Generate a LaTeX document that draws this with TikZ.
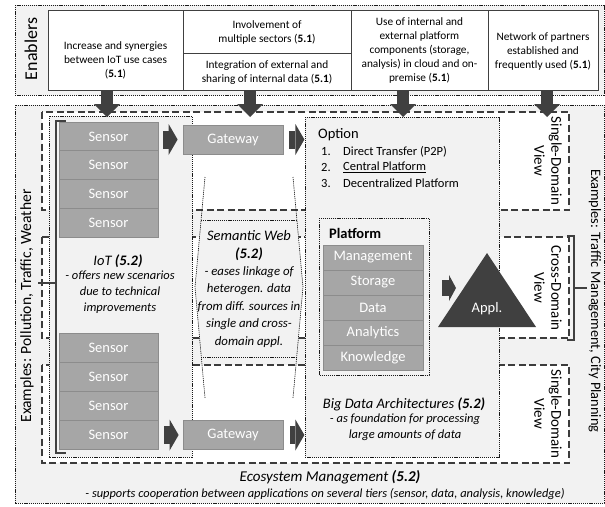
\documentclass[tikz,border=0pt]{standalone}
\usepackage{fontspec}
\setmainfont{Carlito}
\usetikzlibrary{arrows.meta,calc}
\definecolor{bggray}{HTML}{F2F2F2}
\definecolor{darkgr}{HTML}{404040}
\definecolor{midgr}{HTML}{A6A6A6}
\definecolor{edgegr}{HTML}{8C8C8C}
\definecolor{linegr}{HTML}{3C3C3C}
\newcommand\fsz[2]{\fontsize{#1}{#2}\selectfont}
\tikzset{
  dotline/.style={draw=black!90, line width=0.65pt, dash pattern=on 1.2pt off 0.9pt},
  outerbox/.style={dotline, fill=bggray},
  viewbox/.style={draw=linegr, line width=1.1pt, dash pattern=on 7pt off 3.5pt, fill=white},
  cell/.style={draw=darkgr, line width=0.9pt, fill=white, inner sep=0pt},
  celltext/.style={align=center, inner sep=0pt, font={\fsz{11.3}{14}}},
  tile/.style={draw=edgegr, line width=0.8pt, fill=midgr, text=white, inner sep=0pt, font={\fsz{14.5}{16}}},
  sensorbox/.style={tile, minimum width=99pt, minimum height=28.75pt},
  gatebox/.style={tile, minimum width=100pt, minimum height=29pt},
  platrow/.style={tile, minimum width=100pt, minimum height=25pt},
  bigarrow/.style={draw=darkgr, line width=12pt, -{Triangle[width=26pt,length=13pt,line width=0pt]}},
  smallarrow/.style={draw=darkgr, line width=18pt, -{Triangle[width=31pt,length=9pt,line width=0pt]}},
  applarrow/.style={draw=darkgr, line width=16pt, -{Triangle[width=26pt,length=7pt,line width=0pt]}},
  brace/.style={draw=darkgr, line width=1.5pt},
  viewtext/.style={rotate=-90, align=center, inner sep=0pt, font={\fsz{15}{17}}},
  italtext/.style={align=center, inner sep=0pt, font={\fsz{12.5}{16}\itshape}},
  headtext/.style={align=center, inner sep=0pt, font={\fsz{14.5}{18}\itshape}},
}
\begin{document}
\begin{tikzpicture}[x=1pt,y=-1pt]
\useasboundingbox (0,0) rectangle (605,506);
\fill[white] (0,0) rectangle (605,506);
% ---------------- Enablers ----------------
\draw[outerbox] (15,5) rectangle (604,95);
\node[rotate=90, inner sep=0pt, font={\fsz{18}{20}}] (enab) at (31,49) {Enablers};
\node[cell, minimum width=135pt, minimum height=80pt] (c1) at (115.5,50) {};
\node[cell, minimum width=168pt, minimum height=43pt] (c2a) at (267,31.5) {};
\node[cell, minimum width=168pt, minimum height=37pt] (c2b) at (267,71.5) {};
\node[cell, minimum width=137pt, minimum height=80pt] (c3) at (419.5,50) {};
\node[cell, minimum width=110pt, minimum height=80pt] (c4) at (543,50) {};
\node[celltext] (t1) at (115.5,60) {Increase and synergies\\between IoT use cases\\(\textbf{5.1})};
\node[celltext] (t2a) at (267,32) {Involvement of\\multiple sectors (\textbf{5.1})};
\node[celltext] (t2b) at (267,73) {Integration of external and\\sharing of internal data (\textbf{5.1})};
\node[celltext] (t3) at (419.5,50) {Use of internal and\\external platform\\components (storage,\\analysis) in cloud and on-\\premise (\textbf{5.1})};
\node[celltext] (t4) at (543,51) {Network of partners\\established and\\frequently used (\textbf{5.1})};
% ---------------- Main area ----------------
\draw[outerbox] (15,105) rectangle (604,503);
\draw[viewbox] (42,112) rectangle (569,210);
\draw[viewbox] (42,237) rectangle (569,338);
\draw[viewbox] (42,365) rectangle (569,463);
% semantic web
\fill[bggray] (201,220) -- (195,287) -- (201,357) -- (297,357) -- (303,287) -- (297,220) -- cycle;
\draw[dotline] (201,220) -- (297,220);
\draw[dotline] (201,357) -- (297,357);
\draw[dotline] (205,177) -- (195,287) -- (205,398);
\draw[dotline] (293,177) -- (303,287) -- (293,398);
% IoT box and Big Data box
\draw[outerbox] (49,116) rectangle (192,457);
\draw[outerbox] (305,117) rectangle (499,457);
\draw[outerbox] (319,218) rectangle (429,375);
% sensors
\node[sensorbox] (s1) at (108.5,136.4) {Sensor};
\node[sensorbox] (s2) at (108.5,165.1) {Sensor};
\node[sensorbox] (s3) at (108.5,193.9) {Sensor};
\node[sensorbox] (s4) at (108.5,222.6) {Sensor};
\node[sensorbox, minimum height=29pt] (s5) at (108.5,347.5) {Sensor};
\node[sensorbox, minimum height=29pt] (s6) at (108.5,376.5) {Sensor};
\node[sensorbox, minimum height=29pt] (s7) at (108.5,405.5) {Sensor};
\node[sensorbox, minimum height=29pt] (s8) at (108.5,434.5) {Sensor};
% gateways
\node[gatebox] (gw1) at (233,139.5) {Gateway};
\node[gatebox] (gw2) at (233,435) {Gateway};
% platform
\node[anchor=west, inner sep=0pt, font={\fsz{14.5}{16}\bfseries}] (plat) at (329,233) {Platform};
\node[platrow] (p1) at (373,257.5) {Management};
\node[platrow] (p2) at (373,282.5) {Storage};
\node[platrow] (p3) at (373,307.5) {Data};
\node[platrow] (p4) at (373,332.5) {Analytics};
\node[platrow] (p5) at (373,357.5) {Knowledge};
% option list
\node[anchor=west, inner sep=0pt, font={\fsz{14.5}{16}}] (opt) at (318,135) {Option};
\node[anchor=west, inner sep=0pt, font={\fsz{12.5}{15}}] (o1n) at (321,152) {1.};
\node[anchor=west, inner sep=0pt, font={\fsz{12.5}{15}}] (o2n) at (321,167.5) {2.};
\node[anchor=west, inner sep=0pt, font={\fsz{12.5}{15}}] (o3n) at (321,183) {3.};
\node[anchor=west, inner sep=0pt, font={\fsz{12.5}{15}}] (o1) at (343,152) {Direct Transfer (P2P)};
\node[anchor=west, inner sep=0pt, font={\fsz{12.5}{15}}] (o2) at (343,167.5) {\underline{Central Platform}};
\node[anchor=west, inner sep=0pt, font={\fsz{12.5}{15}}] (o3) at (343,183) {Decentralized Platform};
% texts
\node[headtext] (iott) at (118,261) {IoT \textbf{(5.2)}};
\node[italtext] (iotd) at (120,292) {- offers new scenarios\\due to technical\\improvements};
\node[headtext] (semt) at (249,246) {Semantic Web\\\textbf{(5.2)}};
\node[italtext, font={\fsz{12.8}{17.5}\itshape}] (semd) at (249,307) {- eases linkage of\\heterogen. data\\from diff. sources in\\single and cross-\\domain appl.};
\node[headtext] (bdt) at (404,404) {Big Data Architectures \textbf{(5.2)}};
\node[italtext] (bdd) at (405,427) {- as foundation for processing\\large amounts of data};
\node[inner sep=0pt, font={\fsz{15}{17}\itshape}] (eco) at (330,477) {Ecosystem Management \textbf{(5.2)}};
\node[inner sep=0pt, font={\fsz{12.4}{14}\itshape}] (ecod) at (325,494) {- supports cooperation between applications on several tiers (sensor, data, analysis, knowledge)};
% view labels
\node[viewtext] (vt1) at (548,161) {Single-Domain\\View};
\node[viewtext] (vt2) at (548,288) {Cross-Domain\\View};
\node[viewtext] (vt3) at (548,414) {Single-Domain\\View};
\node[rotate=90, inner sep=0pt, font={\fsz{15.6}{18}}] (exl) at (27,306) {Examples: Pollution, Traffic, Weather};
\node[rotate=-90, inner sep=0pt, font={\fsz{14.4}{17}}] (exr) at (595,301) {Examples: Traffic Management, City Planning};
% brackets
\draw[brace] (66,121) -- (56,121) -- (56,453) -- (66,453);
\draw[brace] (56,283) -- (38,283);
\draw[brace] (567,236) -- (574,236) -- (574,340) -- (567,340);
\draw[brace] (574,288) -- (587,288);
% application triangle
\fill[darkgr] (487,253) -- (536,327) -- (438,327) -- cycle;
\node[inner sep=0pt, text=white, font={\fsz{14.5}{16}}] (appl) at (487,309) {Appl.};
% big arrows
\coordinate (a1s) at (107,90);  \coordinate (a1e) at (107,117);
\coordinate (a2s) at (250,90);  \coordinate (a2e) at (250,117);
\coordinate (a3s) at (403,90);  \coordinate (a3e) at (403,117);
\coordinate (a4s) at (547,90);  \coordinate (a4e) at (547,117);
\draw[bigarrow] (a1s) -- (a1e);
\draw[bigarrow] (a2s) -- (a2e);
\draw[bigarrow] (a3s) -- (a3e);
\draw[bigarrow] (a4s) -- (a4e);
% small arrows
\draw[smallarrow] ($(s1.east |- gw1.west)+(5,0)$) -- ($(gw1.west)+(-5,0)$);
\draw[smallarrow] ($(gw1.east)+(6,0)$) -- ($(gw1.east)+(21,0)$);
\draw[smallarrow] ($(s8.east |- gw2.west)+(6,0)$) -- ($(gw2.west)+(-4,0)$);
\draw[smallarrow] ($(gw2.east)+(7,0)$) -- ($(gw2.east)+(21,0)$);
\coordinate (apin) at (442,288);
\draw[applarrow] (apin) -- ($(apin)+(14,0)$);
\end{tikzpicture}
\end{document}
